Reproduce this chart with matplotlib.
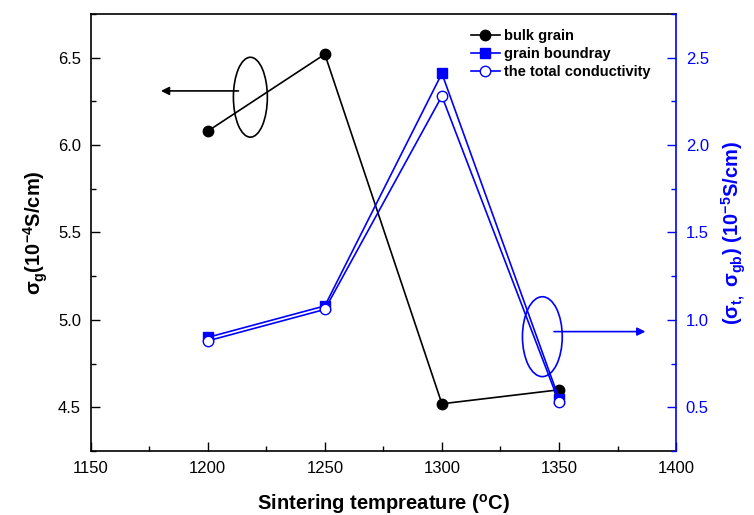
import matplotlib
matplotlib.use("Agg")
import matplotlib.pyplot as plt
from matplotlib.patches import Ellipse
from matplotlib.ticker import MultipleLocator

plt.rcParams['font.family'] = ['Liberation Sans', 'DejaVu Sans']
plt.rcParams['mathtext.fontset'] = 'custom'
plt.rcParams['mathtext.rm'] = 'Liberation Sans:bold'
plt.rcParams['mathtext.it'] = 'Liberation Sans:bold'
plt.rcParams['mathtext.bf'] = 'Liberation Sans:bold'

temps = [1200, 1250, 1300, 1350]
bulk_grain = [6.08, 6.52, 4.52, 4.60]
grain_boundary = [0.90, 1.08, 2.41, 0.55]
total_cond = [0.88, 1.06, 2.28, 0.53]

fig = plt.figure(figsize=(7.54, 5.15), dpi=100)
ax = fig.add_axes([0.1203, 0.1243, 0.7763, 0.8485])
ax2 = ax.twinx()

l1, = ax.plot(temps, bulk_grain, color='black', lw=1.2, marker='o', ms=7.5,
              label='bulk grain')
l2, = ax2.plot(temps, grain_boundary, color='#0000ff', lw=1.2, marker='s', ms=6.5,
               label='grain boundray')
l3, = ax2.plot(temps, total_cond, color='#0000ff', lw=1.2, marker='o', ms=7.5,
               mfc='white', mec='#0000ff', mew=1.0, label='the total conductivity')

ax.set_xlim(1150, 1400)
ax.set_ylim(4.25, 6.75)
ax2.set_ylim(0.25, 2.75)

ax.xaxis.set_major_locator(MultipleLocator(50))
ax.xaxis.set_minor_locator(MultipleLocator(25))
ax.yaxis.set_major_locator(MultipleLocator(0.5))
ax.yaxis.set_minor_locator(MultipleLocator(0.25))
ax2.yaxis.set_major_locator(MultipleLocator(0.5))
ax2.yaxis.set_minor_locator(MultipleLocator(0.25))

ax.tick_params(axis='both', which='major', direction='in', length=6.5, width=1.0,
               labelsize=12, pad=7, top=False)
ax.tick_params(axis='both', which='minor', direction='in', length=3.5, width=1.0, top=False)
ax2.tick_params(axis='y', which='major', direction='in', length=6.5, width=1.0,
                labelsize=12, pad=7, colors='#0000ff')
ax2.tick_params(axis='y', which='minor', direction='in', length=3.5, width=1.0,
                colors='#0000ff')

for s in ['left', 'bottom', 'top']:
    ax.spines[s].set_linewidth(1.2)
ax2.spines['right'].set_color('#0000ff')
ax2.spines['right'].set_linewidth(1.2)
ax.spines['right'].set_visible(False)
for s in ['left', 'bottom', 'top']:
    ax2.spines[s].set_visible(False)

ax.set_xlabel(r'Sintering tempreature ($\mathregular{^oC}$)', fontsize=14.5,
              fontweight='bold', labelpad=12)
ax.set_ylabel(r'$\sigma_g$$\mathregular{(10^{-4}S/cm)}$', fontsize=14.5,
              fontweight='bold', labelpad=6)
ax2.set_ylabel(r'$\mathregular{(\sigma_{t,}\ \sigma_{gb})\ (10^{-5}S/cm)}$', fontsize=14.5,
               fontweight='bold', color='#0000ff', labelpad=8)

# annotations: ellipses and arrows
ax.add_patch(Ellipse((1218.2, 6.274), 14.5, 0.457, fill=False, ec='black', lw=1.2))
ax.annotate('', xy=(1178.8, 6.31), xytext=(1214.3, 6.31),
            arrowprops=dict(arrowstyle='-|>', color='black', lw=1.2, mutation_scale=12))
ax.add_patch(Ellipse((1342.9, 4.904), 17.0, 0.457, fill=False, ec='#0000ff', lw=1.2,
                     zorder=5))
ax.annotate('', xy=(1388.1, 4.933), xytext=(1346.7, 4.933),
            arrowprops=dict(arrowstyle='-|>', color='#0000ff', lw=1.2, mutation_scale=12))

leg = ax2.legend(handles=[l1, l2, l3], loc='upper left', bbox_to_anchor=(0.634, 0.985),
                 frameon=False, prop={'weight': 'bold', 'size': 10.5},
                 handlelength=2.0, handletextpad=0.3, labelspacing=0.25,
                 borderaxespad=0.2)

fig.savefig('out.png', dpi=100)
